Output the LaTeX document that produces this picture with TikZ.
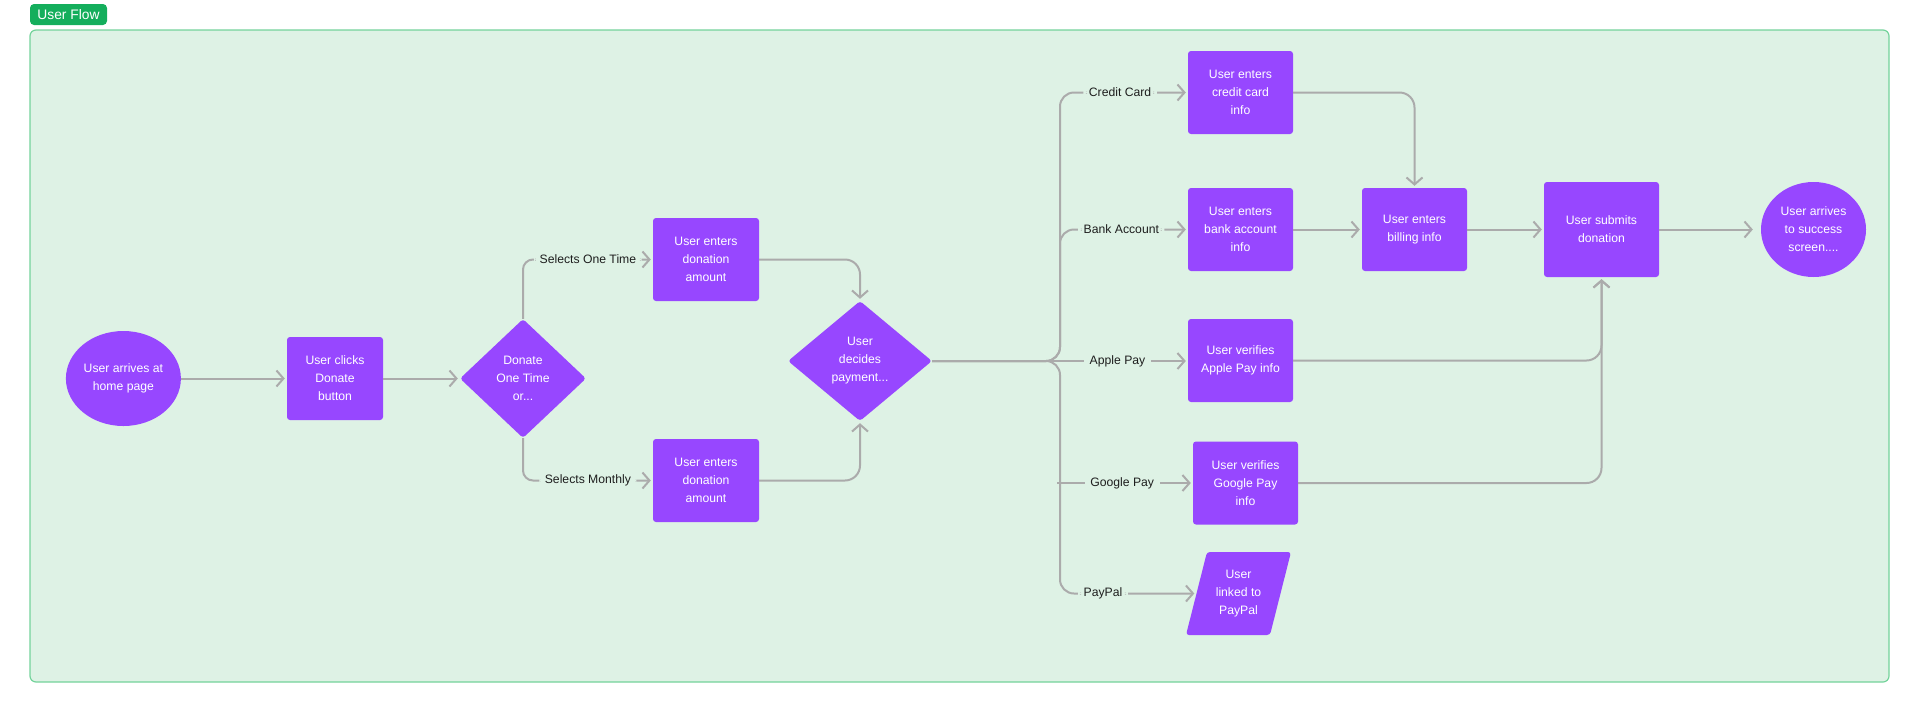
\documentclass[tikz,border=0pt]{standalone}
\usepackage{fontspec}
\setmainfont{Liberation Sans}
\usetikzlibrary{shapes.geometric,arrows.meta,calc}
\definecolor{vio}{HTML}{9747FF}
\definecolor{bgg}{HTML}{DEF2E5}
\definecolor{frameg}{HTML}{74D39B}
\definecolor{tagg}{HTML}{14AE5C}
\definecolor{lineg}{HTML}{ABABAB}
\definecolor{ink}{HTML}{1E1E1E}
\begin{document}
\begin{tikzpicture}[x=1pt,y=-1pt,
  txt/.style={font=\fontsize{12.2}{18}\selectfont},
  box/.style={txt, rectangle, fill=vio, text=white, rounded corners=3pt, align=center, inner sep=0pt, minimum width=105pt, minimum height=83pt},
  ell/.style={txt, ellipse, fill=vio, text=white, align=center, inner sep=0pt},
  dia/.style={txt, diamond, fill=vio, text=white, align=center, inner sep=0pt, rounded corners=3pt},
  conn/.style={draw=lineg, line width=2pt, -{Straight Barb[length=7pt,width=16pt]}, shorten >=2pt},
  lbl/.style={txt, text=ink, fill=bgg, inner xsep=5.5pt, inner ysep=1pt},
]
\useasboundingbox (0,0) rectangle (1920,713);
% frame and tag
\draw[frameg, fill=bgg, line width=1.2pt, rounded corners=6pt] (30,30) rectangle (1889,682);
\node[fill=tagg, text=white, rounded corners=4pt, font=\fontsize{13.8}{16}\selectfont, minimum width=77pt, minimum height=21pt, inner sep=0pt] (tag) at (68.5,14.5) {User Flow};

% nodes
\node[ell, minimum width=115pt, minimum height=95pt] (s) at (123.4,378.5) {User arrives at\\home page};
\node[box, minimum width=96pt] (c) at (335,378.5) {User clicks\\Donate\\button};
\node[dia, minimum width=126pt, minimum height=119pt] (d1) at (523,378.5) {Donate\\One Time\\or...};
\node[box, minimum width=106pt] (ot) at (706,259.5) {User enters\\donation\\amount};
\node[box, minimum width=106pt] (mo) at (706,480.5) {User enters\\donation\\amount};
\node[dia, minimum width=144pt, minimum height=120pt] (dec) at (860,361) {User\\decides\\payment...};
\node[box] (cc) at (1240.5,92.5) {User enters\\credit card\\info};
\node[box] (ba) at (1240.5,229.5) {User enters\\bank account\\info};
\node[box] (ap) at (1240.5,360.5) {User verifies\\Apple Pay info};
\node[box] (gp) at (1245.5,483) {User verifies\\Google Pay\\info};
\fill[vio, rounded corners=3pt] (1186,635) -- (1207,552) -- (1291,552) -- (1270,635) -- cycle;
\node[txt, text=white, align=center, minimum width=84pt, minimum height=83pt, inner sep=0pt] (pp) at (1238.5,593.5) {User\\linked to\\PayPal};
\node[box] (bill) at (1414.5,229.5) {User enters\\billing info};
\node[box, minimum width=115pt, minimum height=95pt] (sub) at (1601.5,229.5) {User submits\\donation};
\node[ell, minimum width=105pt, minimum height=95pt] (succ) at (1813.5,229.5) {User arrives\\to success\\screen....};
\coordinate (split) at (1060,361);

% connectors
\draw[conn] (s.east) -- (c.west);
\draw[conn] (c.east) -- (d1.west);
\draw[conn, rounded corners=10pt] (d1.north) |- node[lbl,pos=.75]{Selects One Time} (ot.west);
\draw[conn, rounded corners=10pt] (d1.south) |- node[lbl,pos=.75]{Selects Monthly} (mo.west);
\draw[conn, rounded corners=15pt] (ot.east) -| (dec.north);
\draw[conn, rounded corners=15pt] (mo.east) -| (dec.south);

\draw[conn, rounded corners=14pt] (dec.east) -| (split |- cc.west) -- node[lbl,pos=.47]{Credit Card} (cc.west);
\draw[conn, rounded corners=14pt] (dec.east) -| (split |- ba.west) -- node[lbl,pos=.48]{Bank Account} (ba.west);
\draw[conn] (dec.east) -- node[lbl,pos=.725]{Apple Pay} (dec.east -| ap.west);
\draw[conn, rounded corners=14pt] (dec.east) -| (split |- pp.west) -- node[lbl,pos=.315]{PayPal} (pp.west);
\draw[conn] ([xshift=-3pt]split |- gp.west) -- node[lbl,pos=.48]{Google Pay} (gp.west);

\draw[conn, rounded corners=15pt] (cc.east) -| (bill.north);
\draw[conn] (ba.east) -- (bill.west);
\draw[conn] (bill.east) -- (sub.west);
\draw[conn, rounded corners=15pt] (ap.east) -| (sub.south);
\draw[conn, rounded corners=15pt] (gp.east) -| (sub.south);
\draw[conn, shorten >=8pt] (sub.east) -- (succ.west);
\end{tikzpicture}
\end{document}
